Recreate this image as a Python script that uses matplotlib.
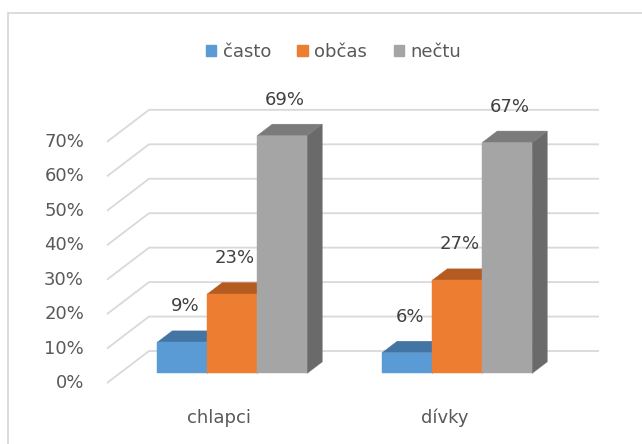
import matplotlib.pyplot as plt
from matplotlib.patches import Polygon, Patch, Rectangle

# data
categories = ['chlapci', 'dívky']
series = ['často', 'občas', 'nečtu']
casto = [9, 6]
obcas = [23, 27]
nectu = [69, 67]
yticks = [0, 10, 20, 30, 40, 50, 60, 70]

front_colors = ['#5B9BD5', '#ED7D31', '#A5A5A5']
top_colors = ['#4275A3', '#B45B22', '#7B7B7B']
side_colors = ['#4275A3', '#B45B22', '#6A6A6A']

plt.rcParams['font.family'] = ['DejaVu Sans']

# oblique "3d" projection: px per category / per percent, depth offset
PX_X = 225.0
PX_Y = 3.445
DX = 42 / PX_X
DY = 32 / PX_Y
Z0, Z1 = 0.30, 0.66   # bar front / back depth
W = 50 / PX_X         # bar width


def proj(x, v, z):
    return (x + z * DX, v + z * DY)


fig = plt.figure(figsize=(6.42, 4.44), dpi=100)
ax = fig.add_axes([0, 0, 1, 1])
ax.set_xlim(-107 / PX_X, (642 - 107) / PX_X)
ax.set_ylim(-(444 - 383) / PX_Y, 383 / PX_Y)
ax.axis('off')

n = len(categories)
# gridlines on side wall and back wall
for v in yticks:
    x0, y0 = proj(0, v, 0)
    x1, y1 = proj(0, v, 1)
    x2, y2 = proj(n, v, 1)
    ax.plot([x0, x1, x2], [y0, y1, y2], color='#D9D9D9', lw=1.3,
            solid_capstyle='butt', zorder=1)
    ax.text(-23 / PX_X, v, f'{v}%', ha='right', va='center',
            fontsize=13, color='#595959')

z = 2
for i, vals in enumerate([casto, obcas, nectu]):
    for j, v in enumerate(vals):
        xl = j + 0.5 - 1.5 * W + i * W
        xr = xl + W
        front = [proj(xl, 0, Z0), proj(xr, 0, Z0), proj(xr, v, Z0), proj(xl, v, Z0)]
        top = [proj(xl, v, Z0), proj(xr, v, Z0), proj(xr, v, Z1), proj(xl, v, Z1)]
        side = [proj(xr, 0, Z0), proj(xr, 0, Z1), proj(xr, v, Z1), proj(xr, v, Z0)]
        ax.add_patch(Polygon(side, closed=True, fc=side_colors[i], ec=side_colors[i], lw=0.3, zorder=z))
        ax.add_patch(Polygon(top, closed=True, fc=top_colors[i], ec=top_colors[i], lw=0.3, zorder=z))
        ax.add_patch(Polygon(front, closed=True, fc=front_colors[i], ec=front_colors[i], lw=0.3, zorder=z + 1))
        ax.annotate(f'{v}%', xy=proj((xl + xr) / 2, v, Z0), xytext=(3, 36),
                    textcoords='offset pixels', ha='center', va='center',
                    fontsize=13, color='#404040', zorder=10)
    z += 2

for j, name in enumerate(categories):
    ax.annotate(name, xy=(j + 0.5, 0), xytext=(0, -35), textcoords='offset pixels',
                ha='center', va='center', fontsize=13, color='#595959')

handles = [Patch(color=c) for c in front_colors]
leg = fig.legend(handles, series, loc='center', bbox_to_anchor=(333.5 / 642, 1 - 52 / 444),
                 ncol=3, frameon=False, fontsize=13, handlelength=0.6, handleheight=0.6,
                 handletextpad=0.35, columnspacing=1.45, labelcolor='#595959')

# chart area border (runs off the right and bottom edge)
fig.patches.append(Rectangle((8 / 642, -0.05), 1.0, 1 - 13 / 444 + 0.05,
                             transform=fig.transFigure, fill=False,
                             ec='#D9D9D9', lw=1.3))

fig.savefig('out.png', dpi=100)
